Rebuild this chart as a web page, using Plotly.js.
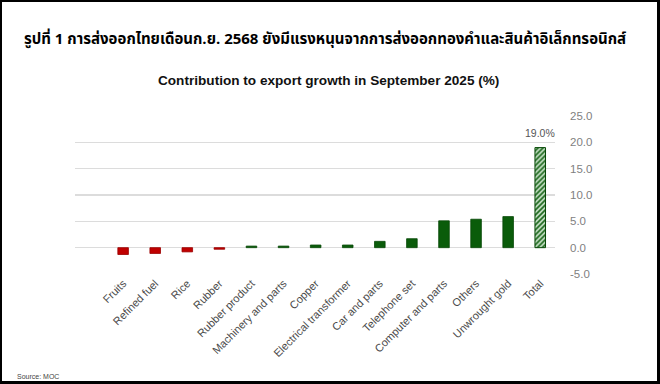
<!DOCTYPE html>
<html>
<head>
<meta charset="utf-8">
<script src="https://cdn.plot.ly/plotly-3.0.1.min.js"></script>
<style>
html,body{margin:0;padding:0;background:#fff;}
#wrap{position:relative;width:660px;height:384px;overflow:hidden;}
#chart{position:absolute;left:0;top:0;width:660px;height:384px;}
#frame{position:absolute;left:0;top:0;width:660px;height:384px;box-sizing:border-box;border-style:solid;border-color:#000;border-width:2px 3px 3px 2px;pointer-events:none;}
</style>
</head>
<body>
<div id="wrap"><div id="chart"></div><div id="frame"></div></div>
<script>
const categories = ["Fruits","Refined fuel","Rice","Rubber","Rubber product","Machinery and parts","Copper","Electrical transformer","Car and parts","Telephone set","Computer and parts","Others","Unwrought gold"];
const contributions = [-1.3,-1.1,-0.8,-0.3,0.3,0.3,0.5,0.5,1.2,1.7,5.1,5.4,5.9];
const totalLabel = "Total";
const totalValue = 19.0;
const yTicks = [-5,0,5,10,15,20,25];
const yTickText = ["-5.0","0.0","5.0","10.0","15.0","20.0","25.0"];
const titleThai = "รูปที่ 1 การส่งออกไทยเดือนก.ย. 2568 ยังมีแรงหนุนจากการส่งออกทองคำและสินค้าอิเล็กทรอนิกส์";
const subtitle = "Contribution to export growth in September 2025 (%)";
const sourceText = "Source: MOC";

const red = "#c00000", redLine = "#9a0000";
const green = "#0a5c0a", greenLine = "#064806";
const colors = contributions.map(v => v < 0 ? red : green);
const lines = contributions.map(v => v < 0 ? redLine : greenLine);

const traces = [
  {type:"bar", x:categories, y:contributions, width:0.33,
   marker:{color:colors, line:{color:lines, width:0.8}}, hoverinfo:"x+y"},
  {type:"bar", x:[totalLabel], y:[totalValue], width:0.33,
   marker:{color:"#ffffff", line:{color:greenLine, width:1},
     pattern:{shape:"/", fgcolor:"#1a661a", bgcolor:"#cfe6cf", size:3.5, solidity:0.5}}, hoverinfo:"x+y"}
];

const layout = {
  width:660, height:384,
  margin:{l:75, r:105, t:116, b:110},
  paper_bgcolor:"#fff", plot_bgcolor:"#fff",
  showlegend:false, barmode:"overlay",
  font:{family:"Liberation Sans, Arial, sans-serif", color:"#555"},
  xaxis:{type:"category", categoryorder:"array", categoryarray:categories.concat([totalLabel]),
    range:[-1.5, 13.46], tickangle:-45, showgrid:false, zeroline:false, showline:false,
    ticks:"", tickfont:{size:11, color:"#4a4a4a"}},
  yaxis:{side:"right", range:[-5,25], tickvals:yTicks, ticktext:yTickText,
    showgrid:true, gridcolor:"#dcdcdc", gridwidth:1.2, zeroline:false,
    tickfont:{size:11.5, color:"#7f7f7f"}, ticks:"", ticklabelstandoff:14},
  annotations:[
    {xref:"paper", yref:"paper", x:(325-75)/480, y:(274-39)/158, xanchor:"center", yanchor:"middle",
     text:"<b>"+titleThai+"</b>", showarrow:false,
     font:{family:"Noto Sans Thai, Noto Sans, sans-serif", size:15, color:"#000"}},
    {xref:"paper", yref:"paper", x:(328.5-75)/480, y:(274-81)/158, xanchor:"center", yanchor:"middle",
     text:"<b>"+subtitle+"</b>", showarrow:false,
     font:{family:"Liberation Sans, Arial, sans-serif", size:13.6, color:"#111"}},
    {xref:"x", yref:"y", x:totalLabel, y:totalValue, yanchor:"bottom", yshift:7,
     text:totalValue.toFixed(1)+"%", showarrow:false,
     font:{size:10.5, color:"#555"}},
    {xref:"paper", yref:"paper", x:(15-75)/480, y:(274-376)/158, xanchor:"left", yanchor:"middle",
     text:sourceText, showarrow:false, font:{size:7, color:"#444"}}
  ]
};

Plotly.newPlot("chart", traces, layout, {displayModeBar:false, staticPlot:true});
</script>
</body>
</html>
